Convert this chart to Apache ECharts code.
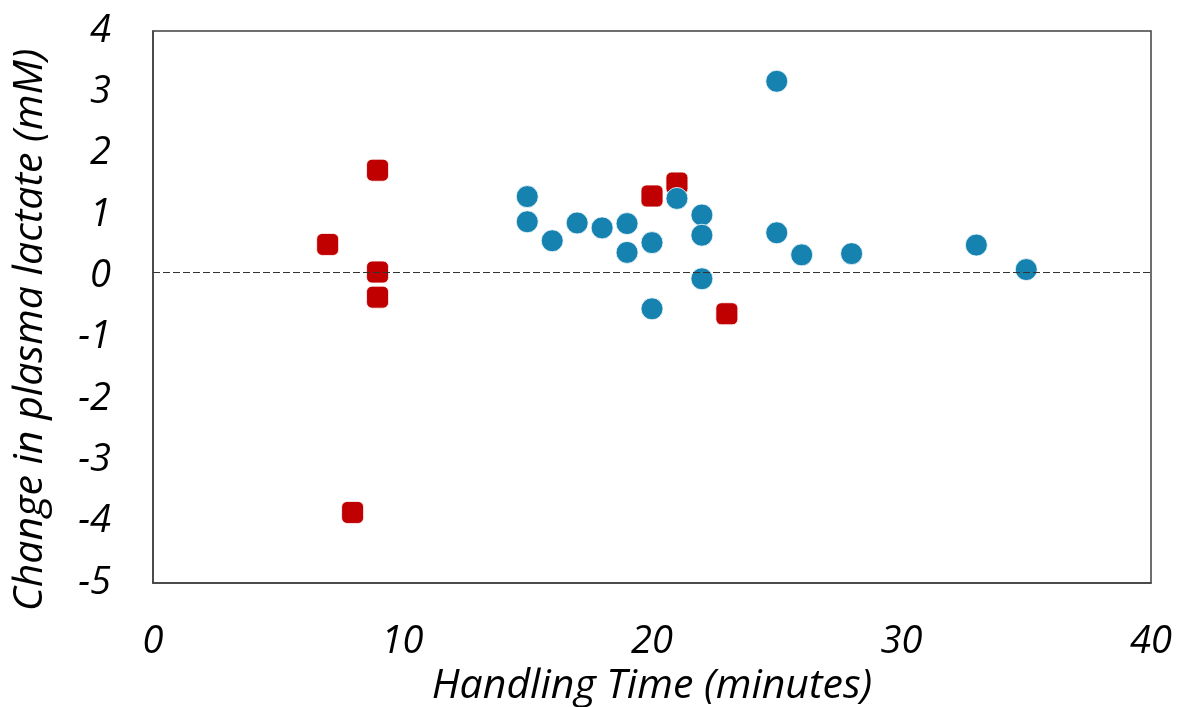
<!DOCTYPE html>
<html><head><meta charset="utf-8">
<script src="https://cdn.jsdelivr.net/npm/echarts@6/dist/echarts.min.js"></script>
<style>html,body{margin:0;padding:0;background:#fff}#c{width:1179px;height:707px}</style>
</head><body><div id="c"></div>
<script>
const blueX = [15, 15, 16, 17, 18, 19, 19, 20, 20, 21, 22, 22, 22, 25, 25, 26, 28, 33, 35];
const blueY = [1.30, 0.89, 0.58, 0.87, 0.79, 0.86, 0.39, 0.55, -0.53, 1.27, 1.00, 0.67, -0.04, 3.18, 0.71, 0.35, 0.37, 0.51, 0.11];
const redX = [7, 9, 9, 9, 8, 20, 21, 23];
const redY = [0.52, 1.73, 0.07, -0.34, -3.85, 1.31, 1.52, -0.61];
const refLineY = 0.07;
const xTicks = [0, 10, 20, 30, 40];
const yTicks = [-5, -4, -3, -2, -1, 0, 1, 2, 3, 4];

const font = "'Open Sans', sans-serif";
const chart = echarts.init(document.getElementById('c'));
chart.setOption({
  animation: false,
  grid: {left: 153, right: 28, top: 31, bottom: 124, show: true, borderColor: '#404040', borderWidth: 1.5,
         backgroundColor: 'transparent', containLabel: false, outerBoundsMode: 'none'},
  xAxis: {
    type: 'value', min: xTicks[0], max: xTicks[xTicks.length-1], interval: 10,
    axisLine: {show: true, onZero: false, lineStyle: {color: '#404040', width: 1.5}},
    axisTick: {show: false}, splitLine: {show: false},
    axisLabel: {fontFamily: font, fontStyle: 'italic', fontSize: 38, color: '#000', margin: 40},
    name: 'Handling Time (minutes)', nameLocation: 'middle', nameGap: 83,
    nameTextStyle: {fontFamily: font, fontStyle: 'italic', fontSize: 41, color: '#000'}
  },
  yAxis: {
    type: 'value', min: yTicks[0], max: yTicks[yTicks.length-1], interval: 1,
    axisLine: {show: true, onZero: false, lineStyle: {color: '#404040', width: 1.5}},
    axisTick: {show: false}, splitLine: {show: false},
    axisLabel: {fontFamily: font, fontStyle: 'italic', fontSize: 38, color: '#000', margin: 42},
    name: 'Change in plasma lactate (mM)', nameLocation: 'middle', nameGap: 102, nameRotate: 90,
    nameTextStyle: {fontFamily: font, fontStyle: 'italic', fontSize: 41, color: '#000', padding: [0, 46, 0, 0]}
  },
  series: [
    {type: 'scatter', data: blueX.map((x, i) => [x, blueY[i]]), symbol: 'circle', symbolSize: 22,
     itemStyle: {color: '#1682B0', borderColor: '#fff', borderWidth: 0.8, opacity: 1}, z: 3,
     markLine: {silent: true, symbol: 'none', label: {show: false},
       lineStyle: {color: '#333', type: [7, 3], width: 1.2},
       data: [{yAxis: refLineY}]}},
    {type: 'scatter', data: redX.map((x, i) => [x, redY[i]]), symbol: 'roundRect', symbolSize: 22,
     itemStyle: {color: '#C00000', borderColor: '#fff', borderWidth: 0.8, opacity: 1}, z: 2}
  ]
});
</script></body></html>
